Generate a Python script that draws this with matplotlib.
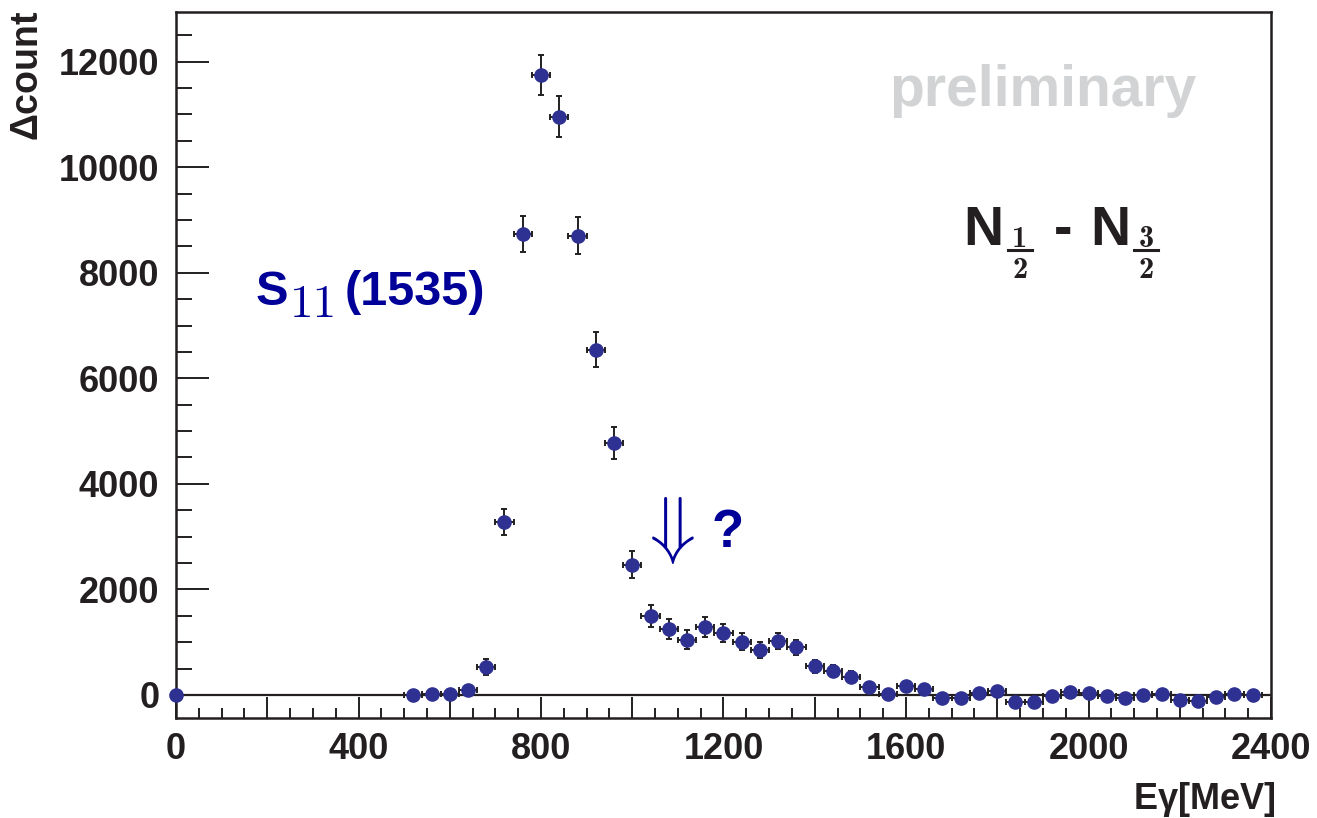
import numpy as np
import matplotlib
matplotlib.use("Agg")
import matplotlib.pyplot as plt
from matplotlib.lines import Line2D
from matplotlib.ticker import MultipleLocator

# Datos: diferencia de cuentas N(1/2) - N(3/2) por bin de energía del fotón
E = [0, 520, 560, 600, 640, 680, 720, 760, 800, 840, 880, 920, 960, 1000,
     1040, 1080, 1120, 1160, 1200, 1240, 1280, 1320, 1360, 1400, 1440, 1480,
     1520, 1560, 1600, 1640, 1680, 1720, 1760, 1800, 1840, 1880, 1920, 1960,
     2000, 2040, 2080, 2120, 2160, 2200, 2240, 2280, 2320, 2360]
dcount = [0, 5, 10, 20, 100, 530, 3280, 8740, 11750, 10960, 8700, 6540, 4770,
          2470, 1490, 1250, 1050, 1280, 1180, 1010, 850, 1020, 900, 540, 460,
          350, 160, 10, 170, 110, -50, -50, 30, 80, -140, -130, -10, 60, 30,
          -20, -50, 0, 15, -95, -105, -30, 15, 0]
dcount_err = [0, 60, 60, 60, 80, 150, 250, 340, 380, 380, 350, 330, 300, 250,
              210, 190, 180, 190, 170, 160, 150, 150, 140, 120, 110, 100, 90,
              80, 80, 80, 70, 70, 70, 70, 70, 70, 70, 70, 70, 70, 70, 70, 70,
              70, 70, 70, 70, 70]
E_err = [20] * 47
E0_err_hi = 70   # el primer bin (E = 0) sólo tiene barra hacia la derecha

x_ticks = [0, 200, 400, 600, 800, 1000, 1200, 1400, 1600, 1800, 2000, 2200, 2400]
x_labels = ["0", "", "400", "", "800", "", "1200", "", "1600", "", "2000", "", "2400"]
y_ticks = [0, 2000, 4000, 6000, 8000, 10000, 12000]
y_labels = ["0", "2000", "4000", "6000", "8000", "10000", "12000"]

W, H = 1317, 818
dark = "#231f20"
c_marker = "#2e3192"
c_text = "#000099"

plt.rcParams["font.family"] = ["Liberation Sans", "DejaVu Sans"]
plt.rcParams["font.weight"] = "bold"
plt.rcParams["mathtext.fontset"] = "custom"
plt.rcParams["mathtext.rm"] = "Liberation Sans"
plt.rcParams["mathtext.it"] = "Liberation Sans:italic"
plt.rcParams["mathtext.bf"] = "Liberation Sans:bold"


def fp(x, y):
    # pixel (origen arriba-izquierda) -> fracción de figura
    return x / W, 1 - y / H


def fraccion(fig, num, den, xc, ybar, half=12):
    # fracción estilo LaTeX: numerador, barra y denominador (Computer Modern negrita)
    fig.text(*fp(xc, ybar - 3), str(num), family="cmb10", weight="normal",
             ha="center", va="baseline", fontsize=22, color=dark)
    fig.text(*fp(xc, ybar + 28), str(den), family="cmb10", weight="normal",
             ha="center", va="baseline", fontsize=22, color=dark)
    x0, y0 = fp(xc - half, ybar)
    x1, _ = fp(xc + half, ybar)
    fig.add_artist(Line2D([x0, x1], [y0, y0], lw=2.2, color=dark,
                          transform=fig.transFigure))


fig = plt.figure(figsize=(W / 100, H / 100), dpi=100)
ax = fig.add_axes([176 / W, 1 - 718 / H, (1271 - 176) / W, (718 - 12) / H])

ax.axhline(0, color=dark, lw=1.6, zorder=1)
style = dict(fmt="o", ms=9.5, mfc=c_marker, mec=c_marker, ecolor=dark,
             elinewidth=1.4, capthick=1.4, clip_on=False, zorder=3)
ax.errorbar(E[1:], dcount[1:], yerr=dcount_err[1:], xerr=E_err, capsize=2.5, **style)
ax.errorbar(E[:1], dcount[:1], xerr=[[0], [E0_err_hi]], capsize=0, **style)

ax.set_xlim(0, 2400)
ax.set_ylim(-436, 12941)
ax.set_xticks(x_ticks, x_labels)
ax.set_yticks(y_ticks, y_labels)
ax.xaxis.set_minor_locator(MultipleLocator(50))
ax.yaxis.set_minor_locator(MultipleLocator(500))
ax.tick_params(axis="x", which="major", direction="in", length=15, width=1.4,
               color=dark, labelsize=26, labelcolor=dark, pad=10)
ax.tick_params(axis="x", which="minor", direction="in", length=7.2, width=1.4, color=dark)
ax.tick_params(axis="y", which="major", direction="in", length=23.8, width=1.4,
               color=dark, labelsize=26, labelcolor=dark, pad=12)
ax.tick_params(axis="y", which="minor", direction="in", length=11.5, width=1.4, color=dark)
for s in ax.spines.values():
    s.set_linewidth(1.8)
    s.set_color(dark)

# Etiquetas de ejes
fig.text(*fp(28, 10), r"$\Delta\mathbf{count}$", rotation=90, ha="center", va="top",
         fontsize=27, color=dark)
fig.text(*fp(1275, 809), r"$\mathbf{E}\mathrm{\gamma}\mathbf{[MeV]}$", ha="right",
         va="baseline", fontsize=26, color=dark)

# Anotaciones
fig.text(*fp(889, 106), "preliminary", ha="left", va="baseline", fontsize=41,
         color="#d1d3d4")

fig.text(*fp(963, 245), "N", ha="left", va="baseline", fontsize=40, color=dark)
fraccion(fig, 1, 2, 1020, 250)
fig.text(*fp(1054, 245), "-", ha="left", va="baseline", fontsize=40, color=dark)
fig.text(*fp(1090, 245), "N", ha="left", va="baseline", fontsize=40, color=dark)
fraccion(fig, 3, 2, 1146, 250)

fig.text(*fp(256, 305), "S", ha="left", va="baseline", fontsize=35, color=c_text)
fig.text(*fp(290, 317), "11", family="cmr10", weight="normal", ha="left",
         va="baseline", fontsize=34, color=c_text)
fig.text(*fp(345, 305), "(1535)", ha="left", va="baseline", fontsize=35, color=c_text)

fig.text(*fp(665, 531), r"$\Downarrow$", math_fontfamily="cm", ha="center",
         va="center", fontsize=54, color=c_text)
fig.text(*fp(712, 547), "?", ha="left", va="baseline", fontsize=38, color=c_text)

fig.savefig("out.png", dpi=100)
